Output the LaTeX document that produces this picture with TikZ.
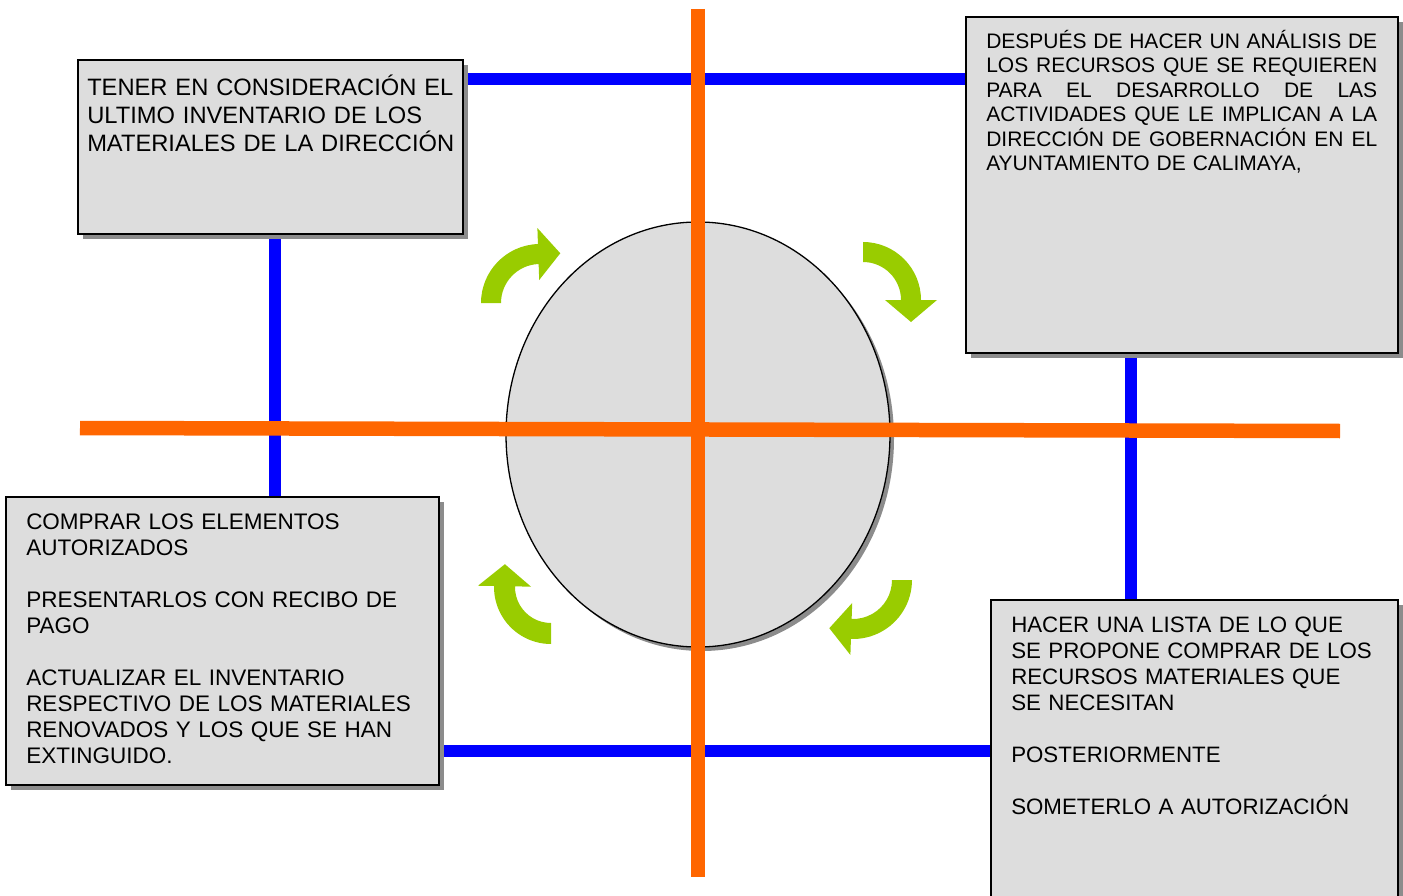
\documentclass[tikz,border=0pt]{standalone}
\usepackage{fontspec}
\setmainfont{Liberation Sans}
\usetikzlibrary{calc,shadows,shapes.geometric,backgrounds}
\definecolor{cBox}{HTML}{DDDDDD}
\definecolor{cShadow}{HTML}{8C8C8C}
\definecolor{cOrange}{HTML}{FF6600}
\definecolor{cBlue}{HTML}{0000FF}
\definecolor{cGreen}{HTML}{99CC00}
\newcommand{\grarrow}[6]{%
  \fill[greenshape] ($(#1,#2)+(#3:#5)$) arc[start angle=#3, end angle=#4, radius=#5]
   -- ($(#1,#2)+(#4:{#5-16})$)
   -- ($(#1,#2)+(#4:{(#5+#6)/2})+({#4+90}:22)$)
   -- ($(#1,#2)+(#4:{#6+16})$)
   -- ($(#1,#2)+(#4:#6)$)
   arc[start angle=#4, end angle=#3, radius=#6] -- cycle;}
\newcommand{\jline}[1]{\makebox[391pt][l]{#1}}
\begin{document}
\begin{tikzpicture}[x=1pt,y=-1pt,
  boxstyle/.style={rectangle, draw=black, line width=1.5pt, fill=cBox, inner sep=0pt,
    drop shadow={shadow xshift=5pt, shadow yshift=-5pt, fill=cShadow, opacity=1}},
  ellstyle/.style={ellipse, draw=black, line width=1.3pt, fill=cBox, inner sep=0pt,
    minimum width=384pt, minimum height=425pt,
    drop shadow={shadow xshift=4pt, shadow yshift=-4pt, fill=cShadow, opacity=1}},
  blueconn/.style={draw=cBlue, line width=12pt},
  orangeline/.style={draw=cOrange, line width=14.5pt},
  greenshape/.style={fill=cGreen},
  txt/.style={anchor=base west, inner sep=0pt, outer sep=0pt, align=left}]
\clip (0,0) rectangle (1403,896);
% boxes
\node[boxstyle, minimum width=385pt, minimum height=174pt] (box1) at (270.5,147) {};
\node[boxstyle, minimum width=432pt, minimum height=336pt] (box2) at (1182,185) {};
\node[boxstyle, minimum width=433pt, minimum height=288pt] (box3) at (222.5,641) {};
\node[boxstyle, minimum width=407pt, minimum height=330pt] (box4) at (1194.5,765) {};
% blue connectors
\begin{scope}[on background layer]
\draw[blueconn] ($(box1.north east)+(0,20)$) -- ($(box2.north west)+(0,63)$);
\draw[blueconn] ($(box1.south west)+(198,0)$) -- ($(box3.north west)+(270,0)$);
\draw[blueconn] ($(box2.south west)+(166,0)$) -- ($(box4.north west)+(141,0)$);
\draw[blueconn] ($(box3.north east)+(0,255)$) -- ($(box4.north west)+(0,152)$);
\end{scope}
% central ellipse
\node[ellstyle] (ell) at (698,434.5) {};
% orange cross
\coordinate (oT) at (698,9);
\coordinate (oB) at (698,877);
\coordinate (oL) at (80,428);
\coordinate (oR) at (1340,431);
\draw[orangeline] (oL) -- (oR);
\draw[orangeline] (oT) -- (oB);
% green curved arrows
\grarrow{540}{303}{180}{268}{39}{59}
\grarrow{863}{300}{270}{360}{38}{58}
\grarrow{551}{587}{90}{181}{36}{57}
\grarrow{853}{580}{0}{92}{39}{59}
% texts
\node[txt, text width=380pt, font=\fontsize{23.7}{28}\selectfont] (t1) at ($(box1.north west)+(10,36)$)
  {TENER EN CONSIDERACIÓN EL\\ULTIMO INVENTARIO DE LOS\\MATERIALES DE LA DIRECCIÓN};
\node[txt, text width=391pt, font=\fontsize{21}{24.5}\selectfont] (t2) at ($(box2.north west)+(21,32)$)
  {\jline{DESPUÉS\hfill DE\hfill HACER\hfill UN\hfill ANÁLISIS\hfill DE}\\
   \jline{LOS\hfill RECURSOS\hfill QUE\hfill SE\hfill REQUIEREN}\\
   \jline{PARA\hfill EL\hfill DESARROLLO\hfill DE\hfill LAS}\\
   \jline{ACTIVIDADES\hfill QUE\hfill LE\hfill IMPLICAN\hfill A\hfill LA}\\
   \jline{DIRECCIÓN\hfill DE\hfill GOBERNACIÓN\hfill EN\hfill EL}\\
   AYUNTAMIENTO DE CALIMAYA,};
\node[txt, text width=410pt, font=\fontsize{22.5}{26}\selectfont] (t3) at ($(box3.north west)+(21,33)$)
  {COMPRAR LOS ELEMENTOS\\AUTORIZADOS\\[26pt]PRESENTARLOS CON RECIBO DE\\PAGO\\[26pt]ACTUALIZAR EL INVENTARIO\\RESPECTIVO DE LOS MATERIALES\\RENOVADOS Y LOS QUE SE HAN\\EXTINGUIDO.};
\node[txt, text width=385pt, font=\fontsize{22.3}{26}\selectfont] (t4) at ($(box4.north west)+(21,33)$)
  {HACER UNA LISTA DE LO QUE\\SE PROPONE COMPRAR DE LOS\\RECURSOS MATERIALES QUE\\SE NECESITAN\\[26pt]POSTERIORMENTE\\[26pt]SOMETERLO A AUTORIZACIÓN};
\end{tikzpicture}
\end{document}
